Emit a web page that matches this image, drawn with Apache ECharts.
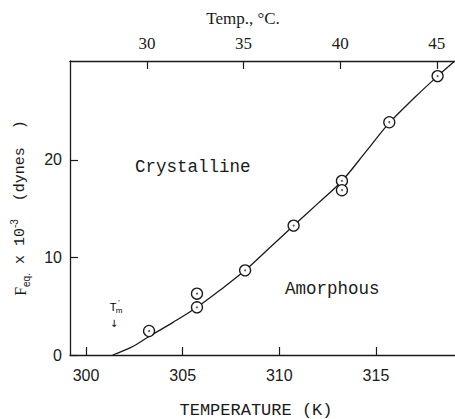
<!DOCTYPE html>
<html>
<head>
<meta charset="utf-8">
<script src="https://cdn.jsdelivr.net/npm/echarts@6/dist/echarts.min.js"></script>
<style>
html,body{margin:0;padding:0;background:#fff;}
#chart{width:455px;height:419px;}
</style>
</head>
<body>
<div id="chart"></div>
<script>
// Measured points (temperature K, F_eq x 10^-3 dynes)
const pointTempK = [303.26, 305.74, 305.74, 308.23, 310.74, 313.24, 313.24, 315.69, 318.19];
const pointForce = [2.46, 6.29, 4.89, 8.68, 13.27, 17.85, 16.9, 23.87, 28.6];
// Drawn boundary curve
const curveTempK = [301.38, 302.3, 303.26, 304.5, 305.74, 307.0, 308.23, 309.5, 310.74, 312.0, 313.24, 314.5, 315.69, 317.0, 318.19, 319.05];
const curveForce = [0, 0.75, 1.9, 3.35, 4.9, 6.75, 8.68, 11.0, 13.27, 15.55, 17.85, 20.9, 23.8, 26.4, 28.6, 30.1];
// Tick labels
const kelvinTicks = [300, 305, 310, 315];
const celsiusTicks = [30, 35, 40, 45];
const forceTicks = [0, 10, 20];
const kMin = 299.17, kMax = 319.09;
const fMin = 0, fMax = 30.15;
const K0 = 273.15;

const ink = '#1a1a1a';
const chart = echarts.init(document.getElementById('chart'), null, {renderer: 'svg'});

const pts = pointTempK.map((t, i) => [t, pointForce[i]]);
const curve = curveTempK.map((t, i) => [t, curveForce[i]]);

const axisCommon = {
  type: 'value',
  axisLine: {show: true, lineStyle: {color: ink, width: 1.3}},
  splitLine: {show: false},
  axisTick: {show: true, inside: true, length: 8, lineStyle: {color: ink, width: 1.2}}
};

chart.setOption({
  backgroundColor: '#ffffff',
  animation: false,
  grid: {left: 70, top: 61, right: 0, bottom: 64, containLabel: false, outerBoundsMode: 'none'},
  xAxis: [
    Object.assign({}, axisCommon, {
      position: 'bottom', min: kMin, max: kMax,
      axisTick: Object.assign({}, axisCommon.axisTick, {customValues: kelvinTicks}),
      axisLabel: {customValues: kelvinTicks, margin: 12, color: ink, fontSize: 16, fontFamily: 'Liberation Sans'}
    }),
    Object.assign({}, axisCommon, {
      position: 'top', min: kMin - K0, max: kMax - K0,
      axisTick: Object.assign({}, axisCommon.axisTick, {customValues: celsiusTicks}),
      axisLabel: {customValues: celsiusTicks, margin: 9, color: ink, fontSize: 17, fontFamily: 'Liberation Serif'}
    })
  ],
  yAxis: Object.assign({}, axisCommon, {
    min: fMin, max: fMax,
    axisTick: Object.assign({}, axisCommon.axisTick, {customValues: forceTicks}),
    axisLabel: {customValues: forceTicks, margin: 8, color: ink, fontSize: 16, fontFamily: 'Liberation Sans'},
    name: '{f|F}{sub|eq.}{m| x 10}{sup|-3}{m|  (dynes  )}',
    nameLocation: 'middle',
    nameRotate: 90,
    nameGap: 39,
    nameTextStyle: {
      color: ink,
      rich: {
        f: {fontFamily: 'Liberation Serif', fontSize: 16, color: ink, lineHeight: 22, verticalAlign: 'middle'},
        m: {fontFamily: 'Liberation Mono', fontSize: 15, color: ink, lineHeight: 22, verticalAlign: 'middle'},
        sub: {fontFamily: 'Liberation Sans', fontSize: 10, color: ink, lineHeight: 22, verticalAlign: 'bottom'},
        sup: {fontFamily: 'Liberation Sans', fontSize: 10, color: ink, lineHeight: 22, verticalAlign: 'top'}
      }
    }
  }),
  series: [
    {
      type: 'line', xAxisIndex: 0, data: curve, showSymbol: false, symbol: 'none',
      smooth: 0.35, lineStyle: {color: ink, width: 1.3}, z: 2, clip: true
    },
    {
      type: 'scatter', xAxisIndex: 0, data: pts, symbol: 'circle', symbolSize: 11,
      itemStyle: {color: '#ffffff', borderColor: ink, borderWidth: 1.3, opacity: 1}, z: 3
    },
    {
      type: 'scatter', xAxisIndex: 0, data: pts, symbol: 'circle', symbolSize: 2,
      itemStyle: {color: '#333333'}, z: 4
    }
  ],
  graphic: [
    {type: 'text', x: 243, y: 18, style: {text: 'Temp., °C.', font: '17px "Liberation Serif"', fill: ink, align: 'center', verticalAlign: 'middle'}},
    {type: 'text', x: 256, y: 410, style: {text: 'TEMPERATURE (K)', font: '17px "Liberation Mono"', fill: ink, align: 'center', verticalAlign: 'middle'}},
    {type: 'text', x: 135, y: 167, style: {text: 'Crystalline', font: '17.5px "Liberation Mono"', fill: ink, align: 'left', verticalAlign: 'middle'}},
    {type: 'text', x: 285, y: 289, style: {text: 'Amorphous', font: '17.5px "Liberation Mono"', fill: ink, align: 'left', verticalAlign: 'middle'}},
    {type: 'text', x: 113, y: 307, style: {text: 'T', font: '11px "Liberation Sans"', fill: '#000000', align: 'center', verticalAlign: 'middle'}},
    {type: 'text', x: 119, y: 302, style: {text: '\'', font: '8px "Liberation Sans"', fill: '#000000', align: 'center', verticalAlign: 'middle'}},
    {type: 'text', x: 119, y: 310, style: {text: 'm', font: '8px "Liberation Sans"', fill: '#000000', align: 'center', verticalAlign: 'middle'}},
    {type: 'text', x: 114, y: 323, style: {text: '\u2193', font: '10px "DejaVu Sans"', fill: '#000000', align: 'center', verticalAlign: 'middle'}}
  ]
});
</script>
</body>
</html>
